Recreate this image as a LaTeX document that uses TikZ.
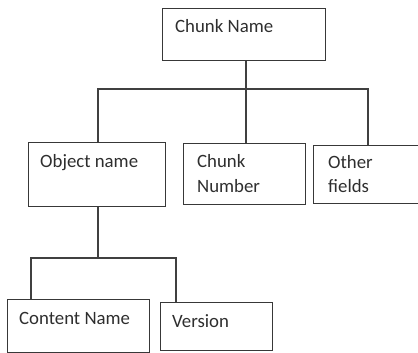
\documentclass[tikz,border=0pt]{standalone}
\usepackage{fontspec}
\setmainfont{Carlito}
\begin{document}
\begin{tikzpicture}[x=1pt,y=-1pt,
  box/.style={draw=black!78,line width=1.1pt,rectangle,inner sep=0pt,anchor=north west},
  lbl/.style={anchor=base west,inner sep=0pt,text=black!82,font=\fontsize{18.8}{25}\selectfont},
  conn/.style={draw=black!75,line width=1.1pt}]
\useasboundingbox (0,0) rectangle (418,353);
% boxes
\node[box,minimum width=163pt,minimum height=52pt] (cn) at (162,8) {};
\node[box,minimum width=137pt,minimum height=64pt] (on) at (28,142) {};
\node[box,minimum width=122pt,minimum height=61pt] (cnum) at (183,143) {};
\node[box,minimum width=110pt,minimum height=58pt] (of) at (313,145) {};
\node[box,minimum width=142pt,minimum height=53pt] (ctn) at (7,299) {};
\node[box,minimum width=112pt,minimum height=48pt] (ver) at (160,302) {};
% labels
\node[lbl] (t1) at (175,33) {Chunk Name};
\node[lbl] (t2) at (40,167) {Object name};
\node[lbl] (t3) at (197,167) {Chunk};
\node[lbl] (t3b) at (197,192) {Number};
\node[lbl] (t4) at (328,168) {Other};
\node[lbl] (t4b) at (328,192) {fields};
\node[lbl] (t5) at (19,324) {Content Name};
\node[lbl] (t6) at (172,327) {Version};
% connectors
\coordinate (j1) at (246,89);
\coordinate (j2) at (98,258);
\draw[conn] (cn.south -| j1) -- (j1);
\draw[conn] (on.north -| 98,0) |- (j1) -| (of.north -| 368,0);
\draw[conn] (j1) -- (cnum.north -| j1);
\draw[conn] (on.south -| j2) -- (j2);
\draw[conn] (ctn.north -| 31,0) |- (j2) -| (ver.north -| 176,0);
\end{tikzpicture}
\end{document}
